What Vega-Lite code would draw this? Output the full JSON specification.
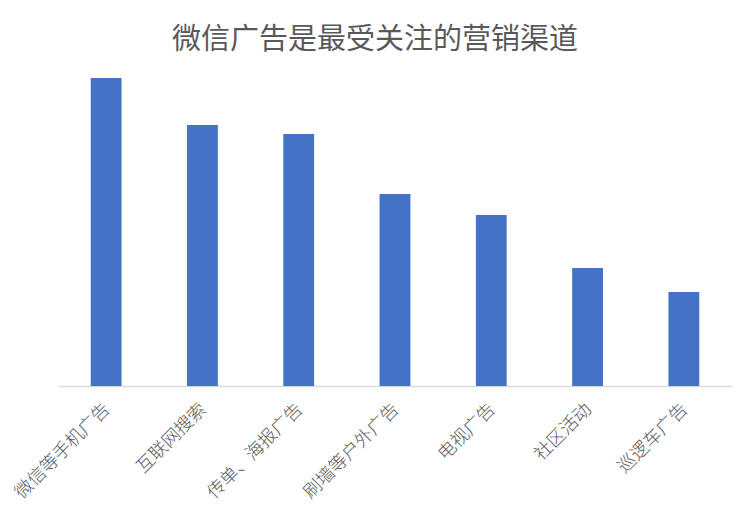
{
  "$schema": "https://vega.github.io/schema/vega-lite/v6.json",
  "autosize": "none",
  "width": 674,
  "height": 316,
  "padding": {"left": 58, "top": 70, "right": 18, "bottom": 143},
  "background": "#ffffff",
  "title": {
    "text": "微信广告是最受关注的营销渠道",
    "font": "Noto Sans CJK SC",
    "fontSize": 29,
    "fontWeight": "normal",
    "color": "#595959",
    "anchor": "middle",
    "dx": -20,
    "offset": 15
  },
  "data": {
    "values": [
      {"channel": "微信等手机广告", "value": 61.6},
      {"channel": "互联网搜索", "value": 52.2},
      {"channel": "传单、海报广告", "value": 50.4},
      {"channel": "刷墙等户外广告", "value": 38.4},
      {"channel": "电视广告", "value": 34.2},
      {"channel": "社区活动", "value": 23.6},
      {"channel": "巡逻车广告", "value": 18.8}
    ]
  },
  "config": {"view": {"stroke": null}},
  "mark": {"type": "bar", "color": "#4472c4"},
  "encoding": {
    "x": {
      "field": "channel",
      "type": "nominal",
      "sort": null,
      "title": null,
      "scale": {"paddingInner": 0.68, "paddingOuter": 0.34},
      "axis": {
        "labelAngle": -45,
        "labelFont": "Noto Sans CJK SC",
        "labelFontSize": 18,
        "labelFontWeight": 300,
        "labelColor": "#595959",
        "labelPadding": 14,
        "labelOffset": -5,
        "ticks": false,
        "domainColor": "#d9d9d9",
        "domainWidth": 1.5
      }
    },
    "y": {
      "field": "value",
      "type": "quantitative",
      "scale": {"domain": [0, 63.2]},
      "axis": null
    }
  }
}
